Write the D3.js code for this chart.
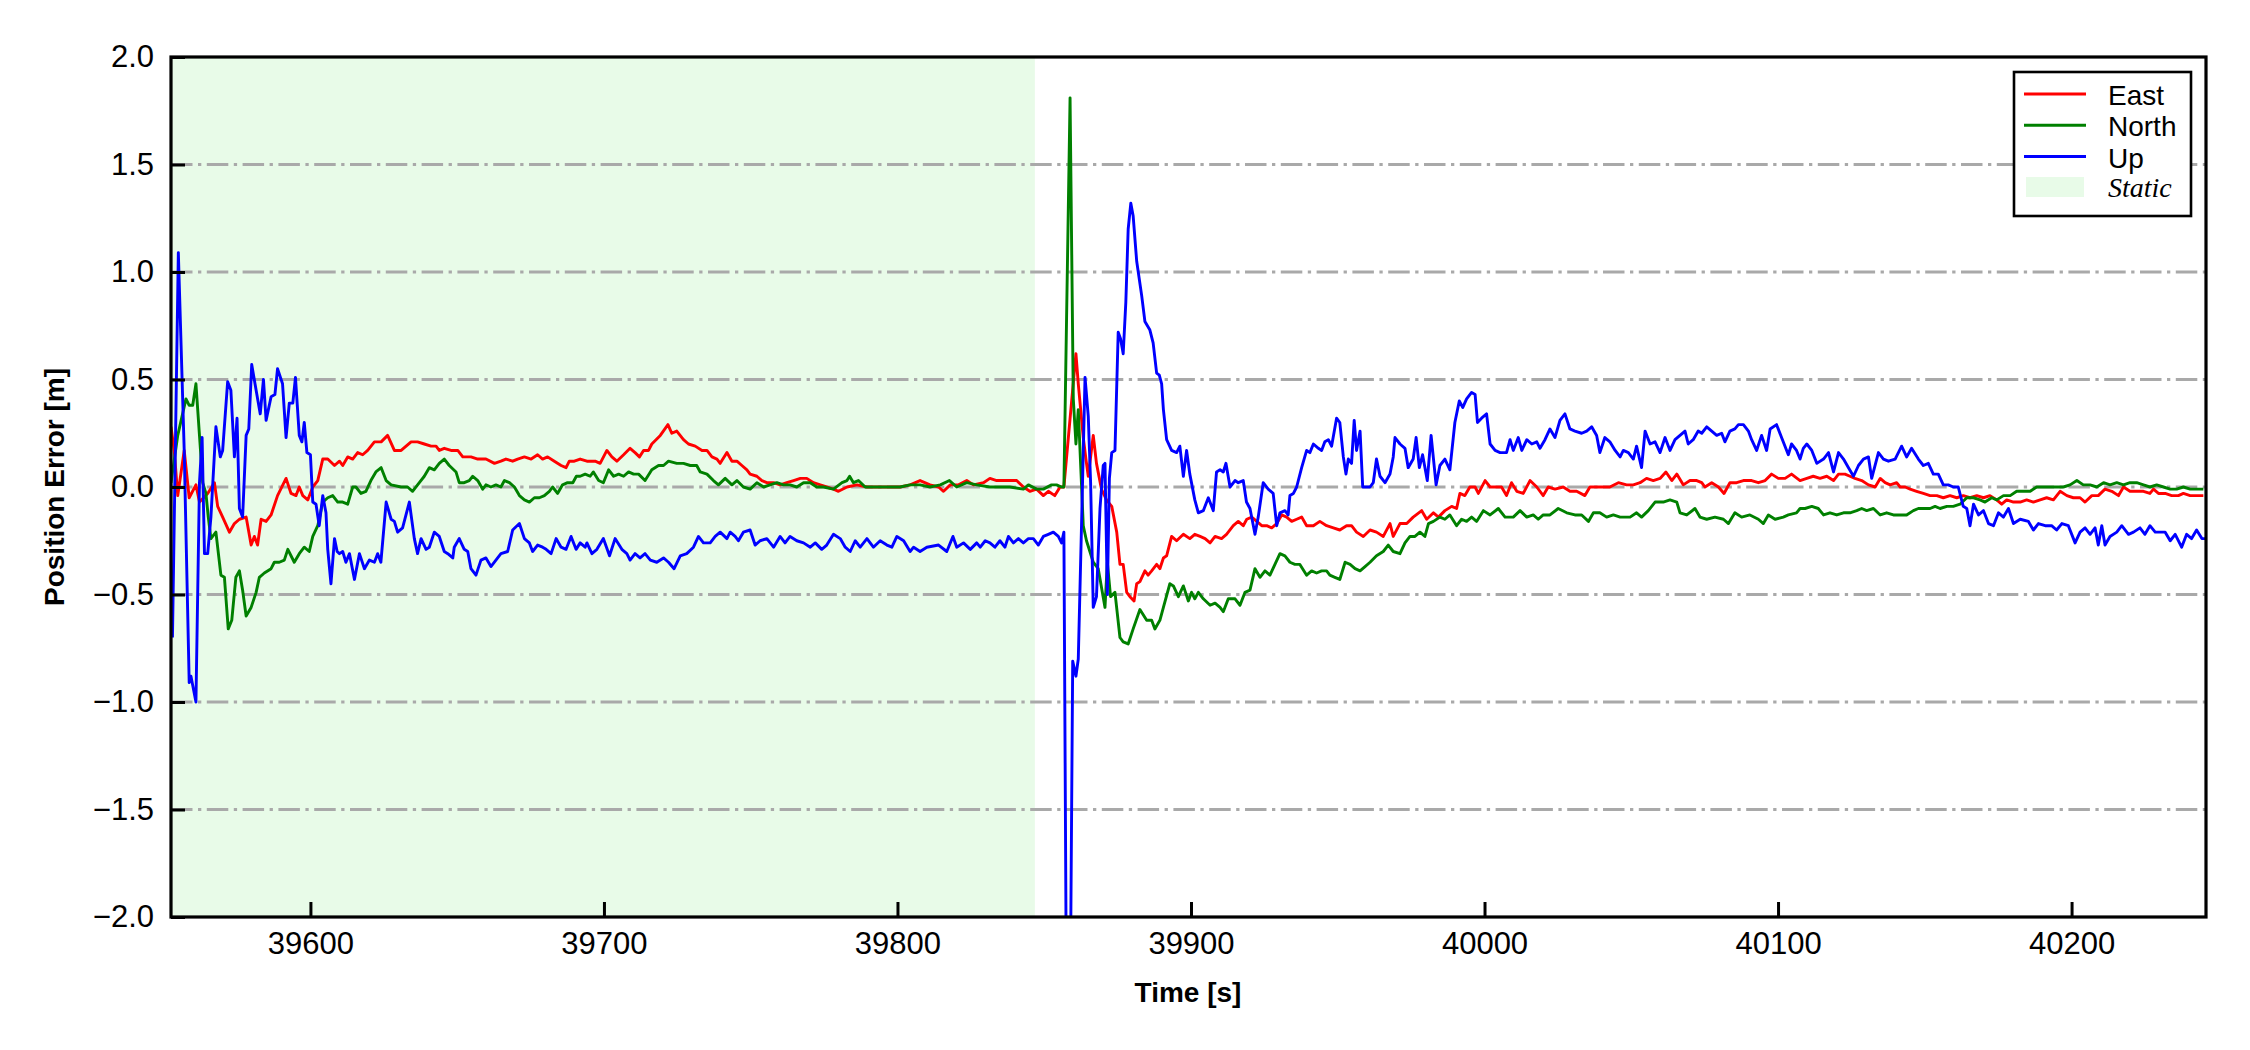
<!DOCTYPE html>
<html>
<head>
<meta charset="utf-8">
<script src="https://cdn.jsdelivr.net/npm/d3@7"></script>
<style>
  body { margin: 0; background: #fff; }
  svg text { font-family: "Liberation Sans", Arial, sans-serif; fill: #000; }
</style>
</head>
<body>
<div id="chart-container"></div>
<script>
// Axis ticks and ranges
let xTicks = [39600, 39700, 39800, 39900, 40000, 40100, 40200];
let yTicks = [-2.0, -1.5, -1.0, -0.5, 0.0, 0.5, 1.0, 1.5, 2.0];
let gridValues = [-1.5, -1.0, -0.5, 0.0, 0.5, 1.0, 1.5];
let timeRange = [39552.5, 40245.8];
let errorRange = [-2, 2];
let staticSpan = [39552.5, 39846.8];
let seriesNames = ["East", "North", "Up"];
let staticName = "Static";

// Position error series, [time (s), error (m)]
let eastData = [
  [39552.5,0.28],[39553.6,0.17],[39554.8,-0.04],[39557.0,0.17],[39558.7,-0.05],[39561.0,0.01],[39562.2,-0.07],[39565.0,-0.03],[39567.3,0.02],[39568.4,-0.09],
  [39570.1,-0.14],[39572.4,-0.21],[39574.1,-0.17],[39575.8,-0.15],[39578.1,-0.14],[39579.8,-0.27],[39580.9,-0.23],[39582.0,-0.27],[39583.2,-0.15],[39584.9,-0.16],
  [39586.6,-0.13],[39588.8,-0.04],[39591.7,0.04],[39593.4,-0.03],[39595.1,-0.04],[39596.2,0.00],[39597.4,-0.04],[39599.1,-0.06],[39600.8,0.00],[39602.5,0.03],
  [39604.2,0.13],[39605.9,0.13],[39608.2,0.10],[39609.9,0.12],[39611.0,0.10],[39612.7,0.14],[39614.4,0.13],[39616.1,0.16],[39617.8,0.15],[39619.5,0.17],
  [39621.8,0.21],[39624.1,0.21],[39626.3,0.24],[39628.6,0.17],[39630.9,0.17],[39632.6,0.19],[39634.3,0.21],[39636.5,0.21],[39638.8,0.20],[39641.1,0.19],
  [39642.8,0.19],[39643.9,0.17],[39645.6,0.18],[39647.9,0.17],[39650.2,0.17],[39651.9,0.14],[39654.7,0.14],[39657.0,0.13],[39659.8,0.13],[39662.7,0.11],
  [39664.9,0.12],[39666.6,0.13],[39668.9,0.12],[39670.6,0.13],[39672.9,0.14],[39675.2,0.13],[39677.4,0.15],[39679.1,0.13],[39680.8,0.14],[39683.1,0.12],
  [39685.4,0.10],[39687.1,0.09],[39688.2,0.12],[39689.9,0.12],
  [39691.9,0.13],[39694.2,0.12],[39697.0,0.12],[39698.7,0.11],[39701.0,0.17],[39702.7,0.14],[39704.4,0.12],[39706.7,0.15],[39708.9,0.18],[39710.6,0.16],
  [39712.1,0.14],[39713.5,0.17],[39715.2,0.17],[39716.3,0.20],[39719.2,0.24],[39721.8,0.29],[39723.1,0.25],[39724.8,0.26],[39727.1,0.22],[39728.8,0.20],
  [39731.1,0.19],[39733.4,0.17],[39735.1,0.17],[39736.8,0.14],[39738.5,0.13],[39739.6,0.11],[39741.9,0.16],[39743.6,0.12],[39745.3,0.12],[39747.0,0.10],
  [39748.7,0.08],[39749.8,0.06],[39752.1,0.05],[39753.8,0.03],[39755.5,0.02],[39757.8,0.02],[39760.0,0.01],[39762.3,0.02],[39764.6,0.03],[39766.9,0.04],
  [39769.1,0.04],[39771.4,0.02],[39773.7,0.01],[39775.9,0.00],[39778.2,-0.01],[39779.9,-0.02],[39782.8,0.00],[39786.2,0.01],[39789.6,0.00],[39791.8,0.00],
  [39794.1,0.00],[39797.5,0.00],[39800.9,0.00],[39804.3,0.01],[39807.7,0.03],[39811.1,0.01],[39814.0,0.00],[39815.7,-0.02],[39818.0,0.01],[39820.8,0.01],
  [39823.6,0.03],[39825.9,0.01],[39829.3,0.02],
  [39831.5,0.04],[39833.8,0.03],[39836.0,0.03],[39838.3,0.03],[39840.6,0.03],[39842.9,0.00],[39845.1,-0.02],[39847.4,-0.01],[39849.7,-0.04],[39851.4,-0.02],
  [39853.6,-0.04],[39855.4,0.00],[39856.7,0.00],[39860.8,0.62],[39861.6,0.48],[39863.3,0.23],[39864.2,0.13],[39865.0,0.05],[39866.7,0.24],[39867.8,0.11],
  [39869.5,-0.01],[39871.2,-0.06],[39873.0,-0.09],[39874.7,-0.21],[39875.8,-0.36],[39876.9,-0.36],[39878.1,-0.49],[39879.2,-0.51],[39880.6,-0.53],[39881.5,-0.45],
  [39882.6,-0.44],[39884.3,-0.39],[39885.4,-0.41],[39886.6,-0.39],[39888.3,-0.36],[39889.4,-0.38],[39890.6,-0.33],[39891.7,-0.32],[39893.4,-0.23],[39895.1,-0.25],
  [39897.4,-0.22],[39899.6,-0.24],[39901.3,-0.22],[39903.1,-0.23],[39904.8,-0.24],[39906.5,-0.26],[39908.2,-0.23],[39910.4,-0.24],[39912.1,-0.22],[39914.4,-0.18],
  [39916.1,-0.16],[39917.8,-0.18],[39919.0,-0.15],[39920.7,-0.14],[39922.4,-0.16],[39924.1,-0.18],[39925.8,-0.18],[39927.5,-0.19],[39929.2,-0.17],[39930.9,-0.13],
  [39932.6,-0.14],[39934.3,-0.16],[39936.0,-0.15],[39937.7,-0.14],[39939.4,-0.18],[39941.7,-0.18],[39943.9,-0.16],[39946.2,-0.18],[39948.5,-0.19],[39950.7,-0.20],
  [39953.0,-0.18],[39954.7,-0.18],[39956.4,-0.21],[39958.7,-0.23],[39961.0,-0.20],[39963.2,-0.21],[39965.5,-0.23],[39967.8,-0.17],[39968.9,-0.23],
  [39971.2,-0.17],[39973.5,-0.17],[39975.7,-0.14],[39978.6,-0.11],[39980.3,-0.15],[39982.6,-0.12],[39984.3,-0.14],[39986.5,-0.11],[39988.8,-0.09],[39990.5,-0.10],
  [39991.6,-0.03],[39993.3,-0.04],[39995.0,0.00],[39996.8,0.00],[39997.9,-0.03],[40000.2,0.03],[40001.9,0.00],[40004.1,0.00],[40005.8,0.00],[40007.5,-0.04],
  [40009.2,0.02],[40011.0,-0.02],[40013.2,-0.03],[40015.5,0.03],[40017.8,0.00],[40020.0,-0.04],[40021.7,0.00],[40024.0,-0.01],[40026.8,0.00],[40029.1,-0.02],
  [40031.4,-0.02],[40034.2,-0.04],[40035.9,0.00],[40038.2,0.00],[40040.5,0.00],[40042.7,0.00],[40045.6,0.02],[40048.4,0.01],[40050.7,0.01],[40053.0,0.02],
  [40055.2,0.04],[40057.5,0.03],[40059.8,0.04],[40061.8,0.07],[40063.8,0.03],[40065.5,0.06],[40067.7,0.01],[40070.0,0.03],[40072.3,0.03],[40074.0,0.02],
  [40075.1,0.00],[40077.4,0.02],[40079.7,0.00],[40081.6,-0.03],[40083.6,0.02],[40085.9,0.02],[40088.2,0.03],[40091.0,0.03],[40093.3,0.02],[40095.6,0.03],
  [40097.8,0.06],[40100.1,0.04],[40102.4,0.04],[40104.6,0.06],
  [40107.5,0.03],[40109.8,0.04],[40112.0,0.05],[40114.3,0.04],[40116.6,0.05],[40118.9,0.03],[40120.6,0.06],[40122.8,0.06],[40124.5,0.05],[40126.2,0.04],
  [40128.5,0.03],[40130.8,0.01],[40133.1,0.00],[40134.8,0.04],[40136.5,0.02],[40138.2,0.01],[40140.4,0.02],[40141.6,0.00],[40143.3,0.00],[40145.0,-0.01],
  [40147.2,-0.02],[40149.5,-0.03],[40151.8,-0.04],[40154.1,-0.04],[40156.3,-0.05],[40158.6,-0.04],[40160.9,-0.05],[40163.1,-0.04],[40165.4,-0.05],[40167.7,-0.04],
  [40170.0,-0.05],[40172.2,-0.04],[40174.5,-0.06],[40176.2,-0.08],[40177.9,-0.06],[40180.2,-0.07],[40182.5,-0.07],[40184.7,-0.06],[40187.0,-0.07],[40189.3,-0.06],
  [40191.5,-0.05],[40193.8,-0.06],[40196.1,-0.02],[40198.4,-0.04],[40200.6,-0.05],[40202.9,-0.05],[40204.6,-0.07],[40206.9,-0.04],[40209.1,-0.04],[40211.4,-0.01],
  [40213.7,-0.02],[40216.0,-0.04],[40217.7,0.00],[40219.9,-0.02],[40222.2,-0.02],[40224.5,-0.02],[40226.7,-0.03],[40227.9,-0.01],[40229.6,-0.03],[40231.9,-0.03],
  [40234.1,-0.04],[40236.4,-0.04],[40238.1,-0.03],[40240.4,-0.04],[40242.6,-0.04],[40244.9,-0.04]
];

let northData = [
  [39552.5,0.02],[39554.8,0.24],[39557.6,0.41],[39558.7,0.38],[39559.9,0.38],[39561.0,0.48],[39562.2,0.24],[39563.3,0.02],[39564.4,-0.03],[39565.2,-0.14],
  [39566.1,-0.24],[39567.8,-0.21],[39569.5,-0.41],[39570.7,-0.42],[39572.0,-0.66],[39573.2,-0.62],[39574.6,-0.42],[39575.8,-0.39],[39576.9,-0.48],[39578.1,-0.60],
  [39579.8,-0.56],[39581.5,-0.49],[39582.6,-0.42],[39584.3,-0.40],[39586.6,-0.38],[39587.7,-0.35],[39589.4,-0.35],[39591.1,-0.34],[39592.3,-0.29],[39594.5,-0.35],
  [39596.2,-0.31],[39597.9,-0.28],[39599.6,-0.30],[39600.8,-0.23],[39602.5,-0.18],[39604.2,-0.07],[39605.9,-0.05],[39607.6,-0.04],[39609.3,-0.07],[39611.0,-0.07],
  [39612.7,-0.08],[39614.4,0.00],[39615.5,0.00],[39617.2,-0.03],[39618.9,-0.02],[39620.6,0.03],[39622.3,0.07],[39624.1,0.09],[39625.8,0.03],[39627.5,0.01],
  [39630.9,0.00],[39633.1,0.00],[39634.8,-0.02],[39637.1,0.02],[39638.8,0.05],[39640.5,0.09],[39642.2,0.08],[39643.9,0.11],[39645.6,0.13],[39647.3,0.10],
  [39649.6,0.07],[39650.7,0.02],[39652.4,0.02],[39654.1,0.03],[39655.3,0.05],[39657.0,0.03],[39658.7,-0.01],[39659.8,0.01],[39661.5,0.00],[39663.2,0.01],
  [39664.9,0.00],[39666.1,0.03],[39667.8,0.02],[39669.5,0.00],[39671.2,-0.04],[39672.9,-0.06],[39674.6,-0.07],[39676.3,-0.05],[39678.0,-0.05],[39679.7,-0.04],
  [39681.4,-0.02],[39682.5,0.00],[39684.2,-0.03],[39685.9,0.01],[39687.6,0.02],[39689.4,0.02],[39690.6,0.05],
  [39691.9,0.05],[39693.6,0.06],[39695.3,0.05],[39696.4,0.07],[39698.2,0.03],[39699.8,0.02],[39701.6,0.08],[39703.3,0.05],[39705.0,0.06],[39706.7,0.05],
  [39708.4,0.07],[39710.1,0.06],[39711.8,0.06],[39714.0,0.03],[39716.3,0.08],[39718.6,0.10],[39720.3,0.10],[39722.0,0.12],[39724.8,0.11],[39727.1,0.11],
  [39729.4,0.10],[39731.6,0.10],[39732.8,0.07],[39735.1,0.06],[39737.3,0.03],[39739.0,0.01],[39741.3,0.04],[39743.6,0.01],[39745.3,0.03],[39747.5,0.00],
  [39749.8,-0.01],[39752.1,0.02],[39754.4,0.00],[39756.6,0.01],[39758.9,0.02],[39761.2,0.01],[39763.4,0.01],[39765.7,0.00],[39768.0,0.02],[39770.3,0.02],
  [39772.5,0.00],[39774.8,0.00],[39778.2,-0.01],[39781.1,0.02],[39782.8,0.03],[39783.7,0.05],[39785.0,0.02],[39786.7,0.03],[39789.0,0.00],[39791.8,0.00],
  [39794.7,0.00],[39798.1,0.00],[39800.9,0.00],[39804.3,0.01],[39807.7,0.01],[39811.1,0.00],[39814.6,0.01],[39817.7,0.03],[39820.2,0.00],[39823.6,0.02],
  [39827.0,0.01],
  [39831.5,0.00],[39833.8,0.00],[39838.3,0.00],[39842.9,-0.01],[39844.6,0.01],[39847.4,-0.01],[39849.7,-0.01],[39852.5,0.01],[39854.2,0.01],[39855.9,0.00],
  [39856.7,0.00],[39858.8,1.81],[39859.9,0.41],[39860.8,0.20],[39861.6,0.36],[39863.3,-0.18],[39864.4,-0.25],[39866.7,-0.35],[39868.4,-0.38],[39870.7,-0.56],
  [39871.5,-0.35],[39872.6,-0.51],[39874.1,-0.49],[39875.8,-0.70],[39876.9,-0.72],[39878.6,-0.73],[39880.3,-0.66],[39882.6,-0.57],[39884.9,-0.62],[39886.6,-0.62],
  [39887.7,-0.66],[39889.4,-0.62],[39890.6,-0.56],[39892.8,-0.45],[39894.0,-0.46],[39895.7,-0.51],[39897.4,-0.46],[39899.1,-0.53],[39900.2,-0.49],[39901.3,-0.52],
  [39902.5,-0.49],[39904.2,-0.52],[39906.5,-0.55],[39908.2,-0.54],[39909.9,-0.56],[39911.0,-0.58],[39912.7,-0.52],[39915.0,-0.52],[39916.7,-0.55],[39918.4,-0.49],
  [39920.1,-0.48],[39921.8,-0.38],[39923.5,-0.42],[39925.2,-0.39],[39926.9,-0.41],[39928.6,-0.36],[39930.3,-0.31],[39932.0,-0.32],[39933.7,-0.35],[39935.4,-0.36],
  [39937.1,-0.36],[39939.4,-0.41],[39941.1,-0.39],[39942.8,-0.40],[39944.5,-0.39],[39946.2,-0.39],[39947.3,-0.41],[39949.0,-0.42],[39950.7,-0.43],[39952.5,-0.35],
  [39954.2,-0.36],[39955.9,-0.38],[39957.6,-0.39],[39959.3,-0.37],[39961.0,-0.35],[39963.2,-0.32],[39965.5,-0.30],[39967.2,-0.27],[39968.9,-0.30],
  [39971.2,-0.31],[39972.9,-0.26],[39974.6,-0.23],[39976.3,-0.23],[39978.0,-0.21],[39979.7,-0.23],[39980.9,-0.17],[39982.6,-0.16],[39984.8,-0.14],[39986.5,-0.15],
  [39988.2,-0.13],[39990.5,-0.18],[39992.2,-0.15],[39993.9,-0.16],[39995.6,-0.14],[39997.3,-0.16],[39999.6,-0.11],[40001.9,-0.13],[40004.7,-0.10],[40007.0,-0.14],
  [40009.8,-0.14],[40012.1,-0.11],[40014.4,-0.14],[40016.6,-0.13],[40018.3,-0.15],[40020.0,-0.13],[40022.3,-0.13],[40025.1,-0.10],[40028.0,-0.12],[40030.8,-0.13],
  [40033.1,-0.13],[40035.4,-0.16],[40037.1,-0.12],[40039.3,-0.12],[40041.6,-0.14],[40043.9,-0.13],[40046.2,-0.14],[40049.6,-0.14],[40051.8,-0.12],[40053.5,-0.14],
  [40055.8,-0.11],[40058.1,-0.07],[40060.9,-0.07],[40063.2,-0.06],[40065.5,-0.07],[40066.6,-0.12],[40068.9,-0.13],[40071.7,-0.10],[40073.4,-0.14],[40075.7,-0.15],
  [40078.5,-0.14],[40081.4,-0.15],[40083.1,-0.17],[40085.3,-0.12],[40087.6,-0.14],[40090.4,-0.13],[40093.3,-0.15],[40095.0,-0.17],[40096.7,-0.13],[40099.0,-0.15],
  [40101.8,-0.14],[40103.5,-0.13],[40106.3,-0.12],
  [40107.5,-0.10],[40109.2,-0.10],[40111.5,-0.09],[40113.7,-0.10],[40115.5,-0.13],[40117.7,-0.12],[40120.0,-0.13],[40122.3,-0.12],[40124.5,-0.12],[40126.8,-0.11],
  [40128.5,-0.10],[40130.2,-0.11],[40132.5,-0.10],[40134.8,-0.13],[40137.0,-0.12],[40139.3,-0.13],[40141.6,-0.13],[40143.8,-0.13],[40146.1,-0.11],[40147.8,-0.10],
  [40150.1,-0.10],[40151.8,-0.10],[40153.5,-0.09],[40155.2,-0.10],[40157.5,-0.09],[40159.7,-0.09],[40162.0,-0.08],[40164.3,-0.05],[40166.6,-0.05],[40168.8,-0.06],
  [40170.5,-0.07],[40172.8,-0.05],[40174.5,-0.06],[40176.8,-0.04],[40179.1,-0.04],[40181.3,-0.02],[40183.6,-0.02],[40185.9,-0.02],[40188.1,0.00],[40190.4,0.00],
  [40192.7,0.00],[40194.9,0.00],[40197.2,0.00],[40199.5,0.01],[40201.8,0.03],[40204.0,0.01],[40206.3,0.01],[40208.6,0.00],[40210.9,0.02],[40213.1,0.01],
  [40215.4,0.02],[40217.7,0.01],[40219.9,0.02],[40222.2,0.02],[40224.5,0.01],[40226.7,0.00],[40229.0,0.01],[40231.3,0.00],[40233.6,-0.01],[40235.8,-0.01],
  [40238.1,0.00],[40240.4,-0.01],[40242.6,-0.01],[40244.9,-0.01]
];

let upData = [
  [39553.0,-0.70],[39555.0,1.09],[39557.0,0.17],[39558.7,-0.91],[39559.3,-0.88],[39561.0,-1.00],[39562.2,0.02],[39563.1,0.23],[39563.9,-0.31],[39565.0,-0.31],
  [39566.1,-0.14],[39567.8,0.28],[39569.3,0.14],[39570.1,0.17],[39571.8,0.49],[39572.9,0.45],[39574.1,0.14],[39575.0,0.32],[39575.8,-0.10],[39576.9,-0.14],
  [39578.1,0.24],[39579.0,0.27],[39580.0,0.57],[39581.5,0.45],[39582.9,0.34],[39584.0,0.50],[39584.9,0.31],[39586.6,0.42],[39587.9,0.43],[39588.8,0.55],
  [39590.5,0.48],[39591.7,0.23],[39592.8,0.39],[39594.0,0.39],[39594.9,0.51],[39596.2,0.24],[39597.1,0.21],[39597.9,0.30],[39598.8,0.16],[39600.0,0.15],
  [39600.8,-0.07],[39601.9,-0.08],[39603.0,-0.18],[39604.2,-0.04],[39605.3,-0.12],[39605.9,-0.29],[39607.0,-0.45],[39608.2,-0.24],[39609.1,-0.30],[39609.9,-0.31],
  [39611.0,-0.30],[39612.1,-0.35],[39613.3,-0.31],[39615.0,-0.43],[39616.7,-0.31],[39618.4,-0.38],[39620.1,-0.34],[39621.8,-0.35],[39622.9,-0.31],[39624.0,-0.35],
  [39625.8,-0.07],[39627.5,-0.15],[39628.6,-0.16],[39629.7,-0.21],[39631.4,-0.19],[39633.7,-0.07],[39635.4,-0.24],[39636.5,-0.31],[39637.7,-0.24],[39639.4,-0.29],
  [39640.5,-0.28],[39642.2,-0.21],[39643.9,-0.23],[39645.6,-0.30],[39646.8,-0.31],[39648.5,-0.33],[39649.0,-0.28],[39650.7,-0.24],[39652.4,-0.29],[39653.6,-0.30],
  [39654.7,-0.38],[39656.4,-0.41],[39658.1,-0.34],[39659.8,-0.33],[39661.5,-0.37],[39663.2,-0.34],[39664.9,-0.31],[39667.2,-0.30],[39668.9,-0.20],[39671.2,-0.17],
  [39672.9,-0.24],[39674.6,-0.26],[39675.7,-0.30],[39677.4,-0.27],[39679.1,-0.28],[39680.3,-0.29],[39682.0,-0.31],[39683.7,-0.24],[39685.4,-0.28],[39687.1,-0.29],
  [39688.8,-0.23],[39690.5,-0.29],
  [39691.9,-0.26],[39693.6,-0.28],[39694.2,-0.26],[39695.9,-0.31],[39697.6,-0.29],[39699.8,-0.24],[39701.9,-0.32],[39703.8,-0.24],[39706.1,-0.29],[39707.8,-0.31],
  [39708.9,-0.34],[39710.6,-0.31],[39712.3,-0.33],[39714.0,-0.31],[39715.8,-0.34],[39718.0,-0.35],[39720.3,-0.33],[39722.0,-0.35],[39723.9,-0.38],[39726.0,-0.32],
  [39728.2,-0.31],[39730.5,-0.28],[39732.2,-0.23],[39733.9,-0.26],[39736.2,-0.26],[39737.9,-0.23],[39739.6,-0.21],[39741.9,-0.24],[39743.0,-0.21],[39744.7,-0.23],
  [39745.8,-0.25],[39747.5,-0.21],[39749.8,-0.20],[39751.5,-0.27],[39753.2,-0.25],[39755.5,-0.24],[39757.8,-0.28],[39760.0,-0.23],[39761.7,-0.26],[39763.4,-0.23],
  [39765.7,-0.25],[39768.0,-0.26],[39770.3,-0.28],[39772.0,-0.26],[39774.2,-0.29],[39775.9,-0.27],[39778.2,-0.22],[39780.5,-0.24],[39782.2,-0.28],[39783.9,-0.30],
  [39785.6,-0.25],[39787.3,-0.28],[39789.6,-0.24],[39791.8,-0.28],[39794.1,-0.25],[39796.4,-0.27],[39798.1,-0.28],[39799.8,-0.23],[39802.1,-0.25],[39804.3,-0.30],
  [39805.5,-0.28],[39807.7,-0.30],[39810.0,-0.28],[39814.0,-0.27],[39816.8,-0.30],[39818.9,-0.23],[39820.2,-0.28],[39822.5,-0.26],[39824.8,-0.29],[39827.0,-0.26],
  [39828.2,-0.28],[39829.9,-0.25],
  [39831.5,-0.26],[39833.2,-0.28],[39834.9,-0.25],[39836.6,-0.28],[39837.8,-0.23],[39839.5,-0.26],[39841.2,-0.24],[39842.9,-0.26],[39844.6,-0.24],[39846.3,-0.24],
  [39848.0,-0.27],[39849.7,-0.23],[39851.4,-0.22],[39853.1,-0.21],[39854.8,-0.23],[39855.9,-0.26],[39856.7,-0.21],[39857.6,-2.50],[39858.8,-2.50],[39859.7,-0.81],
  [39860.8,-0.88],[39861.6,-0.80],[39862.7,-0.18],[39863.9,0.51],[39865.0,0.33],[39865.8,0.02],[39866.7,-0.56],[39867.8,-0.51],[39869.0,-0.10],[39870.1,0.10],
  [39870.7,0.11],[39871.5,-0.50],[39872.2,0.04],[39873.0,0.16],[39874.1,0.17],[39875.2,0.72],[39876.0,0.69],[39876.9,0.62],[39877.8,0.86],[39878.6,1.20],
  [39879.5,1.32],[39880.3,1.26],[39881.5,1.05],[39883.2,0.89],[39884.3,0.77],[39886.0,0.73],[39887.1,0.67],[39888.3,0.53],[39889.2,0.52],[39890.0,0.48],
  [39890.6,0.36],[39891.7,0.22],[39893.4,0.17],[39895.1,0.16],[39896.2,0.19],[39897.4,0.05],[39898.5,0.17],[39899.6,0.06],[39901.3,-0.06],[39902.5,-0.12],
  [39904.2,-0.11],[39905.9,-0.05],[39907.6,-0.11],[39908.7,0.07],[39909.9,0.08],[39911.0,0.07],[39911.9,0.11],[39913.3,0.00],[39915.0,0.03],[39916.1,0.02],
  [39917.8,0.03],[39918.9,-0.07],[39920.1,-0.10],[39921.8,-0.22],[39922.9,-0.14],[39924.6,0.02],[39926.3,-0.01],[39928.0,-0.03],[39929.2,-0.18],[39930.3,-0.12],
  [39932.0,-0.11],[39933.1,-0.13],[39933.7,-0.04],[39934.9,-0.03],[39936.0,0.00],[39937.7,0.09],[39939.4,0.17],[39940.5,0.16],[39941.7,0.20],[39943.4,0.18],
  [39944.5,0.17],[39945.6,0.21],[39946.8,0.22],[39947.9,0.19],[39949.6,0.32],[39950.7,0.30],[39951.9,0.14],[39952.8,0.06],[39953.6,0.13],[39954.7,0.11],
  [39955.6,0.31],[39956.4,0.17],[39957.6,0.26],[39958.5,0.00],[39959.8,0.00],[39961.0,0.00],[39962.1,0.02],[39963.2,0.13],[39964.4,0.05],[39966.1,0.02],
  [39967.8,0.06],[39968.9,0.14],[39969.5,0.23],
  [39971.2,0.20],[39972.9,0.18],[39974.0,0.09],[39975.7,0.13],[39976.7,0.23],[39977.8,0.09],[39978.9,0.15],[39980.5,0.03],[39981.8,0.24],[39983.5,0.01],
  [39984.8,0.10],[39986.5,0.13],[39988.2,0.08],[39989.9,0.30],[39991.4,0.40],[39992.6,0.37],[39993.9,0.41],[39995.6,0.44],[39996.8,0.43],[39997.6,0.30],
  [39999.0,0.32],[40000.7,0.34],[40001.9,0.20],[40003.6,0.17],[40005.3,0.16],[40007.5,0.16],[40008.7,0.22],[40009.8,0.17],[40011.5,0.23],[40012.7,0.17],
  [40014.4,0.22],[40016.1,0.20],[40017.8,0.21],[40018.9,0.18],[40020.6,0.22],[40022.3,0.27],[40024.0,0.23],[40025.7,0.31],[40027.4,0.34],[40029.1,0.27],
  [40030.8,0.26],[40033.1,0.25],[40034.8,0.26],[40036.5,0.28],[40038.2,0.24],[40039.3,0.16],[40041.0,0.23],[40042.7,0.21],[40044.5,0.17],[40046.2,0.14],
  [40047.3,0.17],[40049.0,0.16],[40050.7,0.13],[40051.8,0.19],[40053.5,0.09],[40054.7,0.26],[40056.4,0.20],[40058.1,0.21],[40059.8,0.16],[40061.5,0.23],
  [40063.2,0.17],[40064.9,0.22],[40066.6,0.24],[40068.3,0.26],[40069.4,0.20],[40071.1,0.22],[40072.8,0.26],[40074.0,0.25],[40075.7,0.28],[40077.4,0.26],
  [40079.1,0.24],[40080.8,0.25],[40081.9,0.21],[40083.6,0.26],[40085.3,0.27],[40086.5,0.29],[40088.2,0.29],[40089.9,0.26],[40091.0,0.22],[40092.7,0.17],
  [40094.4,0.24],[40096.1,0.17],[40097.3,0.27],[40099.5,0.29],[40101.2,0.23],[40103.5,0.15],[40104.6,0.20],[40106.3,0.17],
  [40107.5,0.13],[40108.6,0.18],[40109.8,0.20],[40111.5,0.17],[40113.2,0.11],[40115.5,0.13],[40117.2,0.16],[40118.9,0.07],[40120.6,0.16],[40122.3,0.13],
  [40124.0,0.09],[40125.7,0.05],[40127.4,0.10],[40129.1,0.13],[40130.8,0.14],[40131.9,0.04],[40134.2,0.16],[40135.9,0.13],[40137.6,0.12],[40139.9,0.13],
  [40142.1,0.19],[40143.8,0.14],[40145.5,0.18],[40147.8,0.13],[40149.5,0.10],[40151.2,0.11],[40152.9,0.06],[40154.6,0.06],[40156.3,0.01],[40158.0,0.01],
  [40159.7,0.00],[40161.4,0.00],[40163.1,-0.09],[40164.3,-0.10],[40165.4,-0.18],[40166.6,-0.08],[40168.3,-0.13],[40170.0,-0.11],[40171.7,-0.17],[40173.4,-0.18],
  [40175.1,-0.12],[40176.8,-0.14],[40178.5,-0.10],[40180.2,-0.17],[40182.5,-0.15],[40185.3,-0.16],[40187.0,-0.20],[40188.7,-0.17],[40191.0,-0.18],[40193.2,-0.18],
  [40194.9,-0.20],[40196.7,-0.17],[40198.9,-0.18],[40201.2,-0.26],[40202.9,-0.21],[40204.6,-0.19],[40206.3,-0.22],[40208.0,-0.19],[40209.1,-0.27],[40210.3,-0.18],
  [40211.4,-0.27],[40213.1,-0.23],[40215.4,-0.21],[40217.1,-0.18],[40219.4,-0.22],[40221.1,-0.21],[40223.3,-0.19],[40225.0,-0.22],[40226.7,-0.18],[40228.5,-0.21],
  [40230.2,-0.21],[40231.9,-0.21],[40233.6,-0.25],[40235.3,-0.22],[40237.5,-0.28],[40239.2,-0.22],[40240.9,-0.24],[40242.6,-0.20],[40244.4,-0.24],[40245.8,-0.24]
];

// Layout
let margin = {top: 57, right: 44, bottom: 133, left: 171},
    fullWidth = 2250,
    fullHeight = 1050,
    width = fullWidth - margin.left - margin.right,
    height = fullHeight - margin.top - margin.bottom;

let seriesColors = {East: "#ff0000", North: "#008000", Up: "#0000ff"};
let staticFill = "#e8fbe8";

let x = d3.scaleLinear().domain(timeRange).range([0, width]);
let y = d3.scaleLinear().domain(errorRange).range([height, 0]);

let svg = d3.select("#chart-container")
    .append("svg")
    .attr("width", fullWidth)
    .attr("height", fullHeight)
    .style("background", "#fff");

let g = svg.append("g")
    .attr("transform", `translate(${margin.left},${margin.top})`);

g.append("clipPath")
    .attr("id", "plot-clip")
  .append("rect")
    .attr("width", width)
    .attr("height", height);

// Static period shading
g.append("rect")
    .attr("x", x(staticSpan[0]))
    .attr("y", 0)
    .attr("width", x(staticSpan[1]) - x(staticSpan[0]))
    .attr("height", height)
    .attr("fill", staticFill);

// Dash-dot grid
g.selectAll(".grid")
    .data(gridValues)
    .enter()
    .append("line")
    .attr("class", "grid")
    .attr("x1", 0)
    .attr("x2", width)
    .attr("y1", d => y(d))
    .attr("y2", d => y(d))
    .attr("stroke", "#a9a9a9")
    .attr("stroke-width", 2.8)
    .attr("stroke-dasharray", "21.5,5.5,3.3,5.5");

// Error lines
let line = d3.line()
    .x(d => x(d[0]))
    .y(d => y(d[1]));

let series = [
  {name: "East", data: eastData},
  {name: "North", data: northData},
  {name: "Up", data: upData}
];

g.append("g")
    .attr("clip-path", "url(#plot-clip)")
  .selectAll("path")
    .data(series)
    .enter()
    .append("path")
    .attr("d", d => line(d.data))
    .attr("fill", "none")
    .attr("stroke", d => seriesColors[d.name])
    .attr("stroke-width", 2.9)
    .attr("stroke-linejoin", "round");

// Axes with inward ticks
let xAxis = d3.axisBottom(x)
    .tickValues(xTicks)
    .tickFormat(d3.format("d"))
    .tickSizeInner(-15)
    .tickSizeOuter(0)
    .tickPadding(15);

let yAxis = d3.axisLeft(y)
    .tickValues(yTicks)
    .tickFormat(d3.format(".1f"))
    .tickSizeInner(-14)
    .tickSizeOuter(0)
    .tickPadding(17);

let xg = g.append("g")
    .attr("transform", `translate(0,${height})`)
    .call(xAxis);

let yg = g.append("g")
    .call(yAxis);

[xg, yg].forEach(a => {
  a.select(".domain").remove();
  a.selectAll(".tick line").attr("stroke", "#000").attr("stroke-width", 3);
  a.selectAll(".tick text")
      .attr("fill", "#000")
      .style("font-size", "31px")
      .style("font-family", "'Liberation Sans', Arial, sans-serif");
});

// Frame
g.append("rect")
    .attr("width", width)
    .attr("height", height)
    .attr("fill", "none")
    .attr("stroke", "#000")
    .attr("stroke-width", 3.2);

// Axis titles
svg.append("text")
    .attr("text-anchor", "middle")
    .attr("x", margin.left + x(39900) - 3)
    .attr("y", 1002)
    .style("font-size", "28px")
    .style("font-weight", "bold")
    .text("Time [s]");

svg.append("text")
    .attr("text-anchor", "middle")
    .attr("transform", `translate(64,${margin.top + height / 2})rotate(-90)`)
    .style("font-size", "28px")
    .style("font-weight", "bold")
    .text("Position Error [m]");

// Legend
let legend = svg.append("g")
    .attr("transform", "translate(2014,72)");

legend.append("rect")
    .attr("width", 177)
    .attr("height", 144)
    .attr("fill", "#fff")
    .attr("stroke", "#000")
    .attr("stroke-width", 2.6);

let items = legend.selectAll(".item")
    .data(seriesNames)
    .enter()
    .append("g")
    .attr("class", "item")
    .attr("transform", (d, i) => `translate(0,${22 + i * 31.3})`);

items.append("line")
    .attr("x1", 10)
    .attr("x2", 72)
    .attr("stroke", d => seriesColors[d])
    .attr("stroke-width", 3);

items.append("text")
    .attr("x", 94)
    .attr("y", 11)
    .style("font-size", "28px")
    .text(d => d);

legend.append("rect")
    .attr("x", 12)
    .attr("y", 105)
    .attr("width", 58)
    .attr("height", 20)
    .attr("fill", staticFill);

legend.append("text")
    .attr("x", 94)
    .attr("y", 125)
    .style("font-size", "28px")
    .style("font-style", "italic")
    .style("font-family", "'Liberation Serif', 'Times New Roman', serif")
    .text(staticName);
</script>
</body>
</html>
